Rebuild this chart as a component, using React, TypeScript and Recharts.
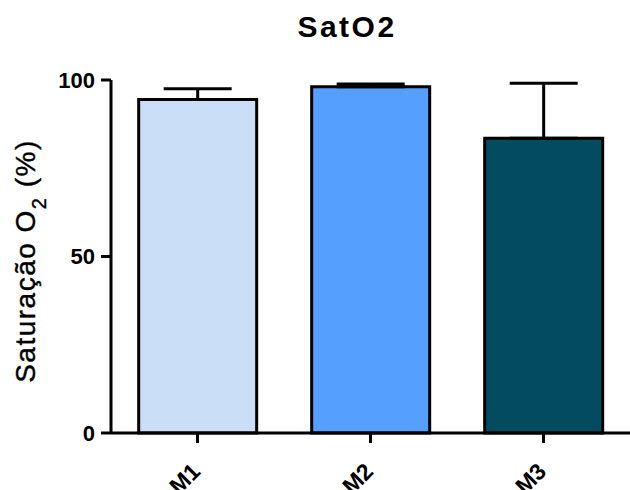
import { Bar, BarChart, XAxis, YAxis, ErrorBar, Cell, Label } from 'recharts';

// values
const categories = ['M1', 'M2', 'M3'];
const means = [94.5, 98.1, 83.5];
const upperErrors = [3.0, 0.8, 15.6];
const yTicks = [0, 50, 100];
const fills = ['#CADFF7', '#559FFE', '#034C5F'];

const data = categories.map((name, i) => ({
  name,
  value: means[i],
  err: [0, upperErrors[i]],
}));

const FONT = '"Liberation Sans", Arial, sans-serif';

const XTick = (props: any) => {
  const { x, y, payload } = props;
  const px = x + 4;
  const py = y + 28;
  return (
    <text
      x={px}
      y={py}
      textAnchor="end"
      transform={`rotate(-45, ${px}, ${py})`}
      fontSize={23}
      fontWeight="bold"
      fontFamily={FONT}
      fill="#000"
    >
      {payload.value}
    </text>
  );
};

const YLabel = () => (
  <text
    x={35}
    y={261}
    textAnchor="middle"
    transform="rotate(-90, 35, 261)"
    fontSize={28}
    letterSpacing={1.5}
    fontFamily={FONT}
    stroke="#000"
    strokeWidth={0.4}
    fill="#000"
  >
    Saturação O<tspan baselineShift="sub" fontSize={20}>2</tspan> (%)
  </text>
);

export default function App() {
  return (
    <div style={{ position: 'absolute', left: 0, top: 0, width: 630, height: 490, background: '#fff' }}>
      <BarChart
        width={630}
        height={490}
        data={data}
        margin={{ top: 80, right: 0, left: 0, bottom: 0 }}
        barCategoryGap="16%"
        style={{ fontFamily: FONT }}
      >
        <text x={347} y={37} textAnchor="middle" fontSize={30} fontWeight="bold" fontFamily={FONT} fill="#000" letterSpacing={2.5}>
          SatO2
        </text>
        <XAxis
          dataKey="name"
          height={57}
          axisLine={{ stroke: '#000', strokeWidth: 3 }}
          tickLine={{ stroke: '#000', strokeWidth: 3 }}
          tickSize={10}
          tick={<XTick />}
          interval={0}
        />
        <YAxis
          width={111}
          domain={[0, 100]}
          ticks={yTicks}
          axisLine={{ stroke: '#000', strokeWidth: 3 }}
          tickLine={{ stroke: '#000', strokeWidth: 3 }}
          tickSize={10}
          tickMargin={6}
          tick={{ fill: '#000', fontSize: 22, fontWeight: 'bold', fontFamily: FONT }}
        >
          <Label content={<YLabel />} />
        </YAxis>
        <Bar dataKey="value" stroke="#000" strokeWidth={3} isAnimationActive={false}>
          {data.map((entry, index) => (
            <Cell key={`cell-${index}`} fill={fills[index]} />
          ))}
          <ErrorBar dataKey="err" width={34} stroke="#000" strokeWidth={3} direction="y" />
        </Bar>
      </BarChart>
    </div>
  );
}
